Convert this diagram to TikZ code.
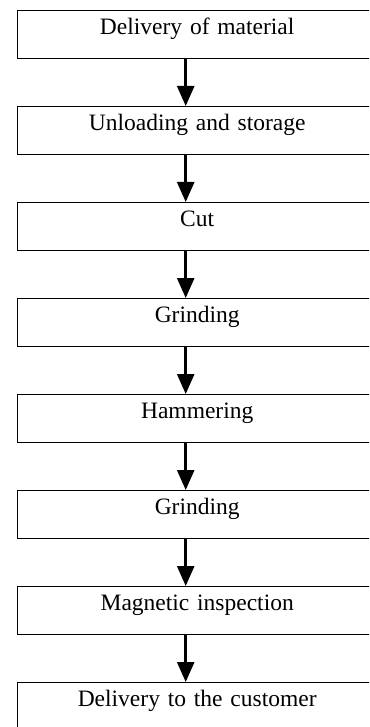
\documentclass[tikz,border=0pt]{standalone}
\usepackage{fontspec}
\setmainfont{Liberation Serif}
\usetikzlibrary{arrows.meta}
\begin{document}
\begin{tikzpicture}[x=1pt,y=1pt,
  stepbox/.style={draw=black,line width=1.4pt,rectangle,anchor=north west,
    minimum width=360pt,inner xsep=0pt,inner ysep=0pt,text height=24pt,text depth=24pt,
    text width=360pt,align=center,font=\fontsize{23.5}{27}\selectfont},
  flow/.style={line width=2.6pt,-{Triangle[length=20pt,width=17pt]}}]
\useasboundingbox (0,0) rectangle (369,-727);
\clip (0,0) rectangle (369,-727);
\fill[white] (0,0) rectangle (369,-727);
\node[stepbox] (b1) at (16.5,-10) {Delivery of material};
\node[stepbox] (b2) at (16.5,-106) {Unloading and storage};
\node[stepbox] (b3) at (16.5,-202) {Cut};
\node[stepbox] (b4) at (16.5,-298) {Grinding};
\node[stepbox] (b5) at (16.5,-394) {Hammering};
\node[stepbox] (b6) at (16.5,-490) {Grinding};
\node[stepbox] (b7) at (16.5,-586) {Magnetic inspection};
\node[stepbox] (b8) at (16.5,-682) {Delivery to the customer};
\foreach \a/\b in {b1/b2,b2/b3,b3/b4,b4/b5,b5/b6,b6/b7,b7/b8}{
  \draw[flow] ([xshift=-11.5pt]\a.south) -- ([xshift=-11.5pt]\b.north);
}
\end{tikzpicture}
\end{document}
